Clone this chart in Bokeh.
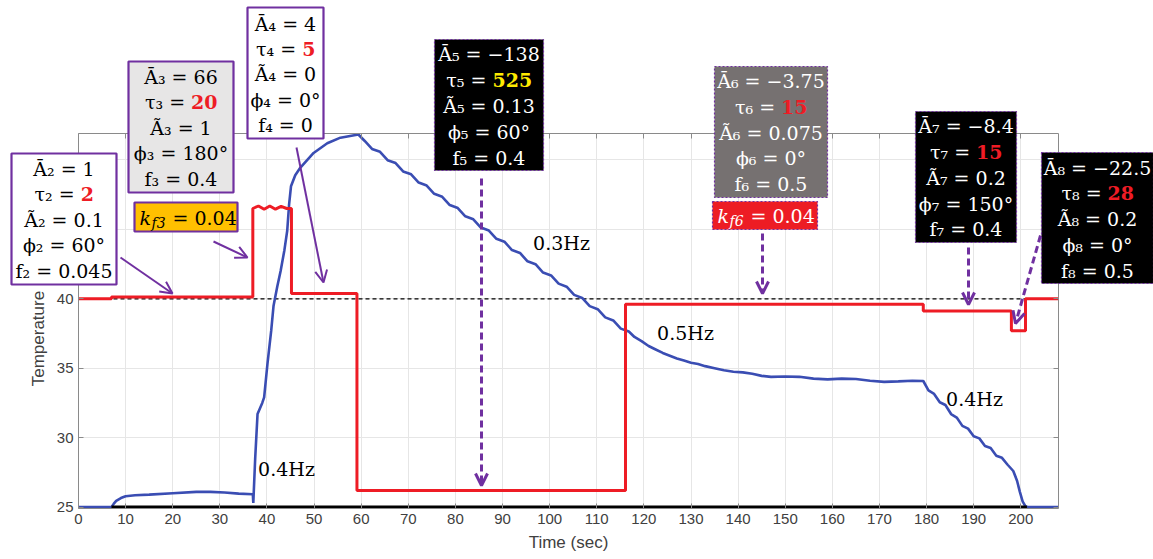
from bokeh.plotting import figure
from bokeh.models import LinearAxis, FixedTicker, Arrow, OpenHead, Range1d
from bokeh.core.properties import value
from bokeh.embed import file_html
from bokeh.resources import INLINE

# ---------------- data ----------------
x_ticks = [0, 10, 20, 30, 40, 50, 60, 70, 80, 90, 100, 110, 120, 130, 140, 150, 160, 170, 180, 190, 200]
y_ticks = [25, 30, 35, 40, 45, 50]

ref_t = [0, 208]
ref_v = [40, 40]

base_t = [7, 201.3]
base_v = [25, 25]

red_t = [0, 7, 7, 37, 37, 38.2, 39.4, 40.6, 41.8, 43, 44.2, 45.2, 45.2, 59.1, 59.1,
         116.1, 116.1, 179.3, 179.3, 198.0, 198.0, 201.0, 201.0, 208]
red_v = [40, 40, 40.12, 40.12, 46.5, 46.68, 46.45, 46.68, 46.45, 46.65, 46.5, 46.5, 40.38, 40.38, 26.2,
         26.2, 39.6, 39.6, 39.12, 39.12, 37.7, 37.7, 40, 40]

blue_t = [0, 7, 7.5, 8, 9, 10, 12, 15, 20, 25, 28, 31, 34, 37, 37.1, 37.5, 38.0, 39.0, 39.4, 40.1,
          40.9, 41.4, 42.2, 42.9, 43.7, 44.3, 44.7, 45.1, 46.0, 47.1, 49.9, 52.8, 55.6,
          59.4, 60.7, 62.3, 64.0, 65.6, 67.3, 68.9, 70.6, 72.2, 73.9, 75.5, 77.2, 78.8, 80.5, 82.1,
          83.8, 85.4, 87.1, 88.7, 90.4, 92.0, 93.7, 95.3, 97.0, 98.6, 100.3, 101.9, 103.6, 105.2,
          106.9, 108.5, 110.2, 111.8, 113.5, 115.1, 116.8,
          118.0, 119.5, 121, 122.5, 124, 125.5, 127, 128.5, 130, 131.5, 133, 135, 137, 139, 141, 143,
          145, 147, 150, 153, 156, 159, 162, 165, 168, 171, 174, 177, 179.3,
          180.4, 181.6, 182.8, 184.0, 185.2, 186.4, 187.6, 188.8, 190.0, 191.2, 192.4, 193.6, 194.8,
          196.0, 197.2, 198.4, 199.2, 199.8, 200.4, 201.0, 201.5, 208]
blue_v = [25, 25, 25.25, 25.45, 25.65, 25.78, 25.85, 25.9, 26.0, 26.1, 26.1, 26.05, 25.97, 25.93, 25.3, 28.5,
          31.7, 32.5, 32.9, 35.3, 37.7, 39.5, 40.9, 42.0, 43.5, 44.9, 46.8, 48.1, 48.9, 49.45, 50.5,
          51.2, 51.6,
          51.83, 51.38, 50.79, 50.58, 49.98, 49.77, 49.17, 48.96, 48.37, 48.15, 47.56, 47.34, 46.75,
          46.53, 45.94, 45.72, 45.13, 44.91, 44.32, 44.11, 43.51, 43.30, 42.70, 42.49, 41.89, 41.68,
          41.09, 40.87, 40.28, 40.06, 39.47, 39.25, 38.66, 38.44, 37.85, 37.64,
          37.25, 36.95, 36.6, 36.35, 36.1, 35.9, 35.7, 35.55, 35.4, 35.3, 35.15, 35.0, 34.85, 34.75,
          34.7, 34.6, 34.45, 34.38, 34.4, 34.38, 34.25, 34.2, 34.25, 34.22, 34.1, 34.02, 34.05, 34.1,
          34.08,
          33.4, 33.15, 32.55, 32.35, 31.7, 31.45, 30.85, 30.65, 30.1, 29.95, 29.4, 29.25, 28.7, 28.55,
          28.05, 27.6, 26.9, 26.1, 25.4, 25.05, 25.0, 25.0]

# ---------------- figure geometry ----------------
W, H = 1153, 559
FL, FR, FT, FB = 78, 1058, 133, 508
X0, X1 = 0, 208
Y0, Y1 = 24.9, 51.9


def X(px):
    return X0 + (px - FL) * (X1 - X0) / (FR - FL)


def Y(py):
    return Y0 + (FB - py) * (Y1 - Y0) / (FB - FT)


p = figure(width=W, height=H, x_range=Range1d(X0, X1), y_range=Range1d(Y0, Y1),
           output_backend="svg", toolbar_location=None,
           min_border_left=FL, min_border_right=W - FR, min_border_top=FT, min_border_bottom=H - FB,
           outline_line_color=None, background_fill_color="white", border_fill_color="white",
           x_axis_label="Time (sec)", y_axis_label="Temperature (°C)")

AX = "#8a8a8a"
for ax in p.xaxis + p.yaxis:
    ax.axis_line_color = AX
    ax.major_tick_line_color = AX
    ax.major_tick_in = 5
    ax.major_tick_out = 0
    ax.minor_tick_line_color = None
    ax.major_label_text_font = "Liberation Sans"
    ax.major_label_text_font_size = "15px"
    ax.major_label_text_color = "#404040"
    ax.axis_label_text_font = "Liberation Sans"
    ax.axis_label_text_font_size = "17px"
    ax.axis_label_text_font_style = "normal"
    ax.axis_label_text_color = "#404040"
    ax.axis_label_standoff = 6
p.xaxis.ticker = FixedTicker(ticks=x_ticks)
p.yaxis.ticker = FixedTicker(ticks=y_ticks)

for loc, tk in (("above", x_ticks), ("right", y_ticks)):
    a = LinearAxis(ticker=FixedTicker(ticks=tk), axis_line_color=AX, major_tick_line_color=AX,
                   major_tick_in=5, major_tick_out=0, minor_tick_line_color=None,
                   major_label_text_color=None)
    p.add_layout(a, loc)

p.xgrid.ticker = FixedTicker(ticks=x_ticks)
p.ygrid.ticker = FixedTicker(ticks=y_ticks)
p.grid.grid_line_color = "#e6e6e6"
p.grid.grid_line_width = 1

# ---------------- series ----------------
p.line(ref_t, ref_v, line_color="black", line_width=1.2, line_dash="4 3")
p.line(blue_t, blue_v, line_color="#3a4db3", line_width=2.6)
p.line(base_t, base_v, line_color="black", line_width=3)
p.line(red_t, red_v, line_color="#ee1c25", line_width=3)

# ---------------- annotations ----------------
PURPLE = "#7030a0"
FONT = value("DejaVu Serif")
FS = "19px"

boxes = [
    dict(l=11, t=153, r=116, b=284, fill="white", dotted=False, tc="black",
         ys=[168, 193.5, 219, 244.5, 270],
         lines=["Ā₂ = 1", ("τ₂ =", "2", "#ee1c25"), "Ã₂ = 0.1", "ϕ₂ = 60°", "f₂ = 0.045"]),
    dict(l=128, t=61, r=233, b=192, fill="#e7e6e6", dotted=False, tc="black",
         ys=[76, 101.5, 127, 152.5, 178],
         lines=["Ā₃ = 66", ("τ₃ =", "20", "#ee1c25"), "Ã₃ = 1", "ϕ₃ = 180°", "f₃ = 0.4"]),
    dict(l=247, t=7, r=323, b=138, fill="white", dotted=False, tc="black",
         ys=[23, 48, 73.5, 99.5, 124.5],
         lines=["Ā₄ = 4", ("τ₄ =", "5", "#ee1c25"), "Ã₄ = 0", "ϕ₄ = 0°", "f₄ = 0"]),
    dict(l=434, t=39, r=543, b=170, fill="black", dotted=True, tc="white",
         ys=[53, 79, 105, 131.5, 157],
         lines=["Ā₅ = −138", ("τ₅ =", "525", "#ffeb00"), "Ã₅ = 0.13", "ϕ₅ = 60°", "f₅ = 0.4"]),
    dict(l=714, t=66, r=827, b=197, fill="#767171", dotted=True, tc="white",
         ys=[80, 106.5, 132, 157.5, 183],
         lines=["Ā₆ = −3.75", ("τ₆ =", "15", "#ee1c25"), "Ã₆ = 0.075", "ϕ₆ = 0°", "f₆ = 0.5"]),
    dict(l=915, t=111, r=1016, b=242, fill="black", dotted=True, tc="white",
         ys=[125, 151, 177, 203, 228],
         lines=["Ā₇ = −8.4", ("τ₇ =", "15", "#ee1c25"), "Ã₇ = 0.2", "ϕ₇ = 150°", "f₇ = 0.4"]),
    dict(l=1041, t=152, r=1153, b=283, fill="black", dotted=True, tc="white",
         ys=[167, 192, 218, 244, 270],
         lines=["Ā₈ = −22.5", ("τ₈ =", "28", "#ee1c25"), "Ã₈ = 0.2", "ϕ₈ = 0°", "f₈ = 0.5"]),
    dict(l=134, t=202, r=237, b=231, fill="#ffc000", dotted=False, tc="black", kf=("3", 139, 217)),
    dict(l=712, t=201, r=817, b=229, fill="#ed1c24", dotted=True, tc="white", kf=("6", 717, 215)),
]

for dotted in (False, True):
    sel = [b for b in boxes if b["dotted"] == dotted]
    p.quad(left=[X(b["l"]) for b in sel], right=[X(b["r"]) for b in sel],
           top=[Y(b["t"]) for b in sel], bottom=[Y(b["b"]) for b in sel],
           fill_color=[b["fill"] for b in sel], line_color=PURPLE,
           line_width=1.2 if dotted else 2.2, line_dash="2 2" if dotted else "solid",
           level="overlay")

norm = dict(x=[], y=[], text=[], color=[], align=[])
bold = dict(x=[], y=[], text=[], color=[])
ital = dict(x=[], y=[], text=[], color=[], size=[])


def add(d, px, py, s, c, align=None):
    d["x"].append(X(px)); d["y"].append(Y(py)); d["text"].append(s); d["color"].append(c)
    if align is not None:
        d["align"].append(align)


for b in boxes:
    cx = (b["l"] + b["r"]) / 2
    if "kf" in b:
        n, x0, yy = b["kf"]
        add(ital, x0, yy, "k", b["tc"]); ital["size"].append("19px")
        add(ital, x0 + 12, yy + 5, "f" + n, b["tc"]); ital["size"].append("14px")
        add(norm, x0 + 33, yy, "= 0.04", b["tc"], "left")
        continue
    for yy, ln in zip(b["ys"], b["lines"]):
        if isinstance(ln, tuple):
            pre, val, vc = ln
            off = (46.5 - 13.2 * len(val)) / 2
            add(norm, cx + off - 6, yy, pre, b["tc"], "right")
            add(bold, cx + off, yy, val, vc)
        else:
            add(norm, cx, yy, ln, b["tc"], "center")

p.text(x="x", y="y", text="text", text_color="color", text_align="align", source=norm,
       text_font=FONT, text_font_size=FS, text_baseline="middle", level="overlay")
p.text(x="x", y="y", text="text", text_color="color", source=bold, text_align="left",
       text_font=FONT, text_font_size=FS, text_font_style="bold", text_baseline="middle",
       level="overlay")
p.text(x="x", y="y", text="text", text_color="color", text_font_size="size", source=ital,
       text_align="left", text_font=FONT, text_font_style="italic", text_baseline="middle",
       level="overlay")

# Hz labels
hz = dict(x=[X(561), X(685), X(286), X(974)], y=[Y(242), Y(332), Y(468), Y(398)],
          text=["0.3Hz", "0.5Hz", "0.4Hz", "0.4Hz"])
p.text(x="x", y="y", text="text", source=hz, text_font=FONT, text_font_size="19px",
       text_color="black", text_align="center", text_baseline="middle")

# arrows
arrows = [((120, 257), (172, 293), False), ((213, 241), (247, 257), False),
          ((296, 147), (323, 282), False), ((481, 178), (481, 485), True),
          ((762, 233), (762, 293), True), ((968, 247), (968, 304), True),
          ((1040, 235), (1015, 323), True)]
for (x0, y0), (x1, y1), dashed in arrows:
    p.add_layout(Arrow(x_start=X(x0), y_start=Y(y0), x_end=X(x1), y_end=Y(y1),
                       line_color=PURPLE, line_width=3 if dashed else 2,
                       line_dash="7 4" if dashed else "solid",
                       end=OpenHead(size=12, line_color=PURPLE, line_width=3 if dashed else 2)))

open("out.html", "w").write(file_html(p, INLINE))
